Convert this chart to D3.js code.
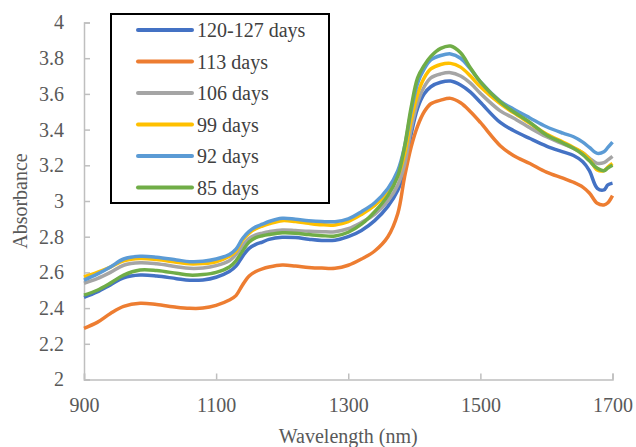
<!DOCTYPE html>
<html>
<head>
<meta charset="utf-8">
<script src="https://cdn.jsdelivr.net/npm/d3@7"></script>
<style>
  body { margin: 0; background: #fff; }
</style>
</head>
<body>
<div id="chart"></div>
<script>
// Input data -------------------------------
var wavelengths = [900, 920, 940, 960, 985, 1010, 1040, 1060, 1080, 1100, 1120, 1130, 1140, 1150, 1160, 1170, 1180, 1200,
  1220, 1240, 1260, 1280, 1300, 1320, 1340, 1360, 1375, 1385, 1395, 1405, 1415, 1425, 1440, 1455, 1470, 1485, 1500,
  1530, 1550, 1575, 1600, 1625, 1641, 1655, 1665, 1677, 1687, 1693, 1700];

var days120 = [2.46, 2.49, 2.53, 2.57, 2.585, 2.58, 2.565, 2.556, 2.558, 2.573, 2.605, 2.635, 2.69, 2.735, 2.757, 2.77, 2.785, 2.797,
  2.795, 2.786, 2.779, 2.78, 2.8, 2.835, 2.89, 2.97, 3.06, 3.17, 3.37, 3.52, 3.6, 3.64, 3.665, 3.672, 3.65, 3.61, 3.553,
  3.44, 3.395, 3.35, 3.308, 3.275, 3.255, 3.22, 3.17, 3.071, 3.062, 3.09, 3.1];
var days113 = [2.287, 2.32, 2.37, 2.41, 2.427, 2.42, 2.405, 2.399, 2.4, 2.415, 2.445, 2.47, 2.53, 2.58, 2.605, 2.62, 2.63, 2.641,
  2.636, 2.628, 2.624, 2.623, 2.64, 2.675, 2.72, 2.8, 2.93, 3.13, 3.3, 3.42, 3.5, 3.545, 3.565, 3.575, 3.55, 3.5, 3.44,
  3.31, 3.255, 3.21, 3.162, 3.128, 3.105, 3.078, 3.045, 2.987, 2.978, 2.99, 3.03];
var days106 = [2.539, 2.565, 2.6, 2.64, 2.654, 2.648, 2.632, 2.623, 2.625, 2.638, 2.665, 2.7, 2.75, 2.79, 2.81, 2.82, 2.828, 2.838,
  2.835, 2.83, 2.828, 2.828, 2.845, 2.88, 2.925, 3.0, 3.09, 3.2, 3.4, 3.55, 3.64, 3.69, 3.712, 3.719, 3.7, 3.66, 3.603,
  3.505, 3.465, 3.41, 3.36, 3.32, 3.295, 3.27, 3.24, 3.211, 3.215, 3.23, 3.25];
var days99 = [2.575, 2.6, 2.63, 2.665, 2.678, 2.672, 2.657, 2.648, 2.65, 2.66, 2.69, 2.72, 2.78, 2.82, 2.845, 2.86, 2.872, 2.89,
  2.885, 2.875, 2.867, 2.866, 2.885, 2.925, 2.975, 3.05, 3.14, 3.26, 3.45, 3.6, 3.69, 3.74, 3.765, 3.771, 3.75, 3.7, 3.64,
  3.545, 3.495, 3.435, 3.375, 3.33, 3.3, 3.27, 3.235, 3.174, 3.17, 3.19, 3.21];
var days92 = [2.557, 2.59, 2.63, 2.675, 2.69, 2.685, 2.67, 2.66, 2.662, 2.675, 2.7, 2.73, 2.79, 2.83, 2.855, 2.87, 2.885, 2.903,
  2.898, 2.89, 2.885, 2.884, 2.9, 2.94, 2.99, 3.07, 3.17, 3.3, 3.5, 3.66, 3.74, 3.79, 3.815, 3.824, 3.8, 3.74, 3.668,
  3.56, 3.515, 3.465, 3.416, 3.38, 3.36, 3.33, 3.3, 3.267, 3.276, 3.3, 3.33];
var days85 = [2.473, 2.5, 2.54, 2.585, 2.613, 2.61, 2.595, 2.585, 2.588, 2.6, 2.63, 2.665, 2.72, 2.77, 2.795, 2.805, 2.812, 2.822,
  2.82, 2.812, 2.806, 2.804, 2.825, 2.87, 2.94, 3.03, 3.14, 3.3, 3.52, 3.69, 3.76, 3.81, 3.855, 3.868, 3.83, 3.745, 3.668,
  3.555, 3.5, 3.44, 3.37, 3.325, 3.295, 3.26, 3.225, 3.183, 3.17, 3.185, 3.2];

var seriesNames = ['120-127 days', '113 days', '106 days', '99 days', '92 days', '85 days'];
var seriesValues = [days120, days113, days106, days99, days92, days85];
var seriesColors = ['#4472C4', '#ED7D31', '#A5A5A5', '#FFC000', '#5B9BD5', '#70AD47'];

var xTicks = [900, 1100, 1300, 1500, 1700];
var yTicks = [2, 2.2, 2.4, 2.6, 2.8, 3, 3.2, 3.4, 3.6, 3.8, 4];
// END input --------------------------------

var W = 636, H = 447;
var margin = {top: 22.5, right: 23.5, bottom: 67.5, left: 84};
var width = W - margin.left - margin.right,
    height = H - margin.top - margin.bottom;
var serif = '"Liberation Serif", "Times New Roman", "DejaVu Serif", serif';

var xScale = d3.scaleLinear().domain([900, 1700]).range([0, width]),
    yScale = d3.scaleLinear().domain([2, 4]).range([height, 0]);

var svg = d3.select('#chart').append('svg')
    .attr('width', W)
    .attr('height', H);

var g = svg.append('g')
    .attr('transform', 'translate(' + margin.left + ',' + margin.top + ')');

var axisColor = '#BFBFBF', labelColor = '#595959';

// y axis: ticks point inside
var yAxis = g.append('g')
    .call(d3.axisLeft(yScale).tickValues(yTicks).tickSize(-6).tickPadding(20)
      .tickFormat(function(d){ return d3.format('')(+d.toFixed(1)); }));
yAxis.attr('font-family', null);
yAxis.select('.domain').attr('stroke', axisColor).attr('stroke-width', 1.5);
yAxis.selectAll('.tick line').attr('stroke', axisColor).attr('stroke-width', 1.5);
yAxis.selectAll('.tick text').attr('fill', labelColor)
    .style('font-family', serif).style('font-size', '20px');

// x axis: ticks point up
var xAxis = g.append('g')
    .attr('transform', 'translate(0,' + height + ')')
    .call(d3.axisBottom(xScale).tickValues(xTicks).tickSize(-6).tickPadding(18).tickFormat(d3.format('d')));
xAxis.attr('font-family', null);
xAxis.select('.domain').attr('stroke', axisColor).attr('stroke-width', 1.5);
xAxis.selectAll('.tick line').attr('stroke', axisColor).attr('stroke-width', 1.5);
xAxis.selectAll('.tick text').attr('fill', labelColor)
    .style('font-family', serif).style('font-size', '20px');

// axis titles
svg.append('text')
    .attr('transform', 'translate(27,' + (margin.top + height / 2) + ') rotate(-90)')
    .attr('text-anchor', 'middle')
    .attr('fill', labelColor)
    .style('font-family', serif)
    .style('font-size', '20px')
    .text('Absorbance');

svg.append('text')
    .attr('x', margin.left + width / 2)
    .attr('y', 443)
    .attr('text-anchor', 'middle')
    .attr('fill', labelColor)
    .style('font-family', serif)
    .style('font-size', '20px')
    .text('Wavelength (nm)');

// lines
var line = d3.line()
    .x(function(d){ return xScale(d[0]); })
    .y(function(d){ return yScale(d[1]); })
    .curve(d3.curveCatmullRom.alpha(0.5));

seriesValues.forEach(function(vals, i) {
  var pts = wavelengths.map(function(w, j){ return [w, vals[j]]; });
  g.append('path')
    .datum(pts)
    .attr('fill', 'none')
    .attr('stroke', seriesColors[i])
    .attr('stroke-width', 3.5)
    .attr('stroke-linejoin', 'round')
    .attr('d', line);
});

// legend
var legend = svg.append('g');
legend.append('rect')
    .attr('x', 111).attr('y', 14)
    .attr('width', 218).attr('height', 189)
    .attr('fill', '#fff')
    .attr('stroke', '#000')
    .attr('stroke-width', 2);

seriesNames.forEach(function(name, i) {
  var yy = 30 + i * 31.5;
  legend.append('line')
    .attr('x1', 138).attr('x2', 192)
    .attr('y1', yy).attr('y2', yy)
    .attr('stroke', seriesColors[i])
    .attr('stroke-width', 4)
    .attr('stroke-linecap', 'round');
  legend.append('text')
    .attr('x', 197).attr('y', yy)
    .attr('dy', '0.35em')
    .attr('fill', '#404040')
    .style('font-family', serif)
    .style('font-size', '20px')
    .text(name);
});
</script>
</body>
</html>
